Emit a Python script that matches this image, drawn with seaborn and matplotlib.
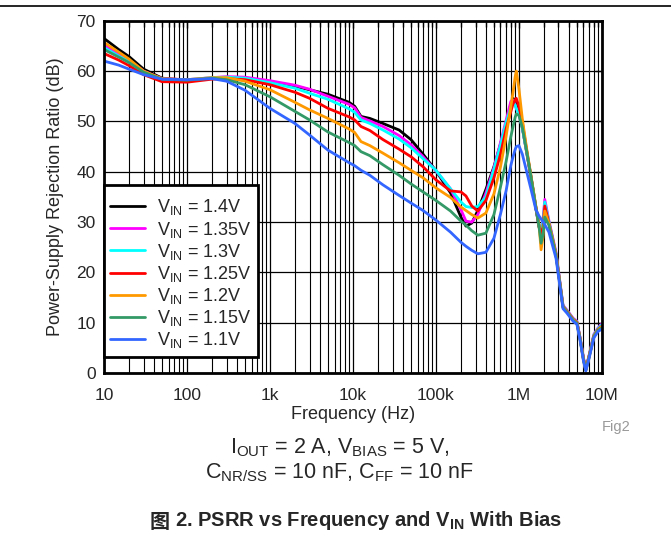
import matplotlib
matplotlib.use("Agg")
import matplotlib.pyplot as plt
from matplotlib.lines import Line2D
from matplotlib.ticker import FixedLocator, LogLocator, NullFormatter
import numpy as np
import pandas as pd
import seaborn as sns

# Frequency points (Hz) shared by every PSRR trace
freq_hz = [10, 15, 20, 30, 50,
           100, 200, 300, 500,
           1e3, 2e3, 3e3, 5e3, 9e3,
           1.05e4, 1.25e4, 1.6e4, 2.3e4, 3.6e4, 5e4, 7e4,
           1e5, 1.5e5, 2e5, 2.3e5, 2.7e5, 3.2e5,
           4e5, 5e5, 6e5, 7e5, 8e5, 8.5e5, 9e5, 9.3e5,
           1e6, 1.1e6, 1.25e6, 1.4e6, 1.6e6, 1.75e6, 1.85e6, 1.95e6, 2.05e6, 2.3e6, 2.8e6,
           3.4e6, 3.8e6, 4.5e6, 5e6, 5.5e6, 6e6, 6.4e6, 7e6, 8e6, 9e6, 1e7]

# PSRR (dB) for each input voltage
psrr_1v40 = [66.5, 64.3, 62.9, 60.4, 58.6,
             58.2, 58.6, 58.7, 58.5,
             57.9, 57.0, 56.3, 55.4, 53.8,
             53.0, 51.0, 50.6, 49.6, 48.3, 46.4, 43.5,
             40.2, 35.8, 31.0, 29.2, 29.8, 32.3,
             36.5, 41.0, 45.5, 49.5, 53.5, 54.6, 54.2, 53.6,
             52.0, 48.8, 43.5, 38.8, 32.7, 29.0, 28.0, 29.5, 33.0, 29.9, 23.6,
             13.2, 12.3, 10.7, 10.1, 6.6, 2.8, 0.7, 3.3, 7.4, 8.6, 9.3]
psrr_1v35 = [65.2, 63.5, 62.2, 60.0, 58.5,
             58.3, 58.7, 58.9, 58.8,
             58.1, 57.2, 56.4, 55.0, 53.4,
             52.7, 50.8, 50.1, 49.0, 47.2, 45.4, 43.0,
             40.2, 36.6, 32.5, 30.2, 30.0, 31.5,
             35.8, 40.8, 45.8, 50.2, 54.0, 54.2, 53.3, 52.6,
             51.5, 48.7, 43.6, 38.9, 32.9, 29.2, 28.3, 30.5, 34.5, 30.3, 24.0,
             13.5, 12.5, 10.9, 10.3, 6.8, 3.0, 0.9, 3.5, 7.7, 9.0, 9.8]
psrr_1v30 = [64.7, 63.0, 61.9, 59.9, 58.4,
             58.3, 58.7, 58.8, 58.6,
             57.7, 56.6, 55.6, 54.4, 52.5,
             51.8, 50.3, 49.6, 48.3, 46.5, 44.8, 42.6,
             40.3, 36.6, 34.0, 33.1, 32.9, 33.1,
             35.0, 40.5, 45.3, 49.8, 52.8, 53.7, 53.3, 52.6,
             51.5, 48.7, 43.6, 38.9, 32.9, 29.2, 28.8, 30.0, 34.0, 30.1, 23.8,
             13.4, 12.4, 10.8, 10.2, 6.7, 2.9, 0.8, 3.4, 7.6, 8.9, 9.6]
psrr_1v25 = [63.5, 62.2, 61.1, 59.3, 57.9,
             57.8, 58.4, 58.5, 58.3,
             57.3, 55.8, 54.6, 52.6, 50.9,
             50.3, 49.0, 48.2, 46.4, 44.5, 43.0, 41.0,
             38.4, 36.2, 36.0, 35.2, 33.2, 32.2,
             34.3, 38.8, 43.5, 48.5, 52.0, 53.5, 54.3, 54.6,
             53.0, 49.8, 43.9, 39.0, 33.0, 29.3, 27.4, 29.0, 33.2, 29.8, 23.6,
             13.2, 12.3, 10.7, 10.1, 6.6, 2.8, 0.7, 3.3, 7.4, 8.7, 9.3]
psrr_1v20 = [65.7, 63.8, 62.4, 60.0, 58.5,
             58.3, 58.7, 58.7, 58.0,
             56.3, 53.8, 52.3, 50.6, 48.5,
             47.8, 46.0, 45.2, 43.7, 41.8, 40.3, 38.8,
             36.8, 34.9, 33.0, 32.3, 31.5, 30.8,
             31.8, 35.6, 41.0, 47.0, 53.0, 55.8, 58.8, 60.0,
             56.5, 50.5, 44.2, 39.2, 33.2, 29.3, 24.5, 27.0, 32.2, 29.7, 23.5,
             13.1, 12.2, 10.6, 10.0, 6.5, 2.7, 0.6, 3.2, 7.3, 8.6, 9.2]
psrr_1v15 = [64.3, 62.8, 61.7, 59.8, 58.4,
             58.2, 58.6, 58.3, 57.3,
             54.9, 52.0, 50.3, 47.9, 45.8,
             45.2, 44.0, 43.2, 41.4, 39.3, 37.6, 36.0,
             34.3, 32.2, 30.2, 29.4, 28.3, 27.4,
             27.8, 31.5, 37.0, 42.0, 47.0, 49.0, 50.8, 51.5,
             51.2, 48.8, 43.8, 39.0, 33.0, 29.0, 25.8, 27.5, 31.0, 29.4, 23.3,
             13.0, 12.1, 10.5, 9.9, 6.4, 2.6, 0.5, 3.1, 7.2, 8.5, 9.0]
psrr_1v10 = [62.0, 61.2, 60.4, 59.3, 58.4,
             58.3, 58.5, 58.0, 56.2,
             52.6, 49.6, 47.3, 44.3, 41.8,
             41.2, 40.3, 39.3, 37.4, 35.3, 33.8, 32.3,
             30.4, 28.0, 26.0, 25.2, 24.4, 23.7,
             24.0, 26.8, 31.6, 36.2, 41.3, 43.0, 44.4, 45.0,
             45.2, 43.5, 39.8, 36.5, 32.5, 31.2, 30.6, 30.1, 29.5, 28.0, 22.8,
             12.8, 11.9, 10.3, 9.7, 6.2, 2.4, 0.4, 2.9, 7.0, 8.3, 8.7]

series_labels = [r"V$_{\mathrm{IN}}$ = 1.4V", r"V$_{\mathrm{IN}}$ = 1.35V",
                 r"V$_{\mathrm{IN}}$ = 1.3V", r"V$_{\mathrm{IN}}$ = 1.25V",
                 r"V$_{\mathrm{IN}}$ = 1.2V", r"V$_{\mathrm{IN}}$ = 1.15V",
                 r"V$_{\mathrm{IN}}$ = 1.1V"]
series_values = [psrr_1v40, psrr_1v35, psrr_1v30, psrr_1v25,
                 psrr_1v20, psrr_1v15, psrr_1v10]
series_colors = ["#000000", "#FF00FF", "#00FFFF", "#FF0000",
                 "#FF9900", "#339966", "#3366FF"]

x_ticks = [10, 100, 1e3, 1e4, 1e5, 1e6, 1e7]
x_tick_labels = ["10", "100", "1k", "10k", "100k", "1M", "10M"]
y_ticks = [0, 10, 20, 30, 40, 50, 60, 70]

frames = [pd.DataFrame({"freq": freq_hz, "psrr": vals, "series": lab})
          for lab, vals in zip(series_labels, series_values)]
df = pd.concat(frames, ignore_index=True)

sns.set_theme(style="white")
plt.rcParams["font.family"] = ["Liberation Sans", "Noto Sans CJK SC", "DejaVu Sans"]
plt.rcParams["mathtext.fontset"] = "custom"
plt.rcParams["mathtext.rm"] = "Liberation Sans"
plt.rcParams["mathtext.it"] = "Liberation Sans:italic"
plt.rcParams["mathtext.bf"] = "Liberation Sans:bold"

W, H = 671, 533
fig = plt.figure(figsize=(W / 100, H / 100), dpi=100)
ax = fig.add_axes([0.155, 0.300, 0.742, 0.661])

sns.lineplot(data=df, x="freq", y="psrr", hue="series", hue_order=series_labels,
             palette=series_colors, linewidth=2.0, estimator=None, sort=False,
             ax=ax, zorder=3)

ax.set_xscale("log")
ax.set_xlim(10, 1e7)
ax.set_ylim(0, 70)
ax.xaxis.set_major_locator(FixedLocator(x_ticks))
ax.set_xticklabels(x_tick_labels)
ax.xaxis.set_minor_locator(LogLocator(base=10, subs=np.arange(2, 10)))
ax.xaxis.set_minor_formatter(NullFormatter())
ax.set_yticks(y_ticks)

ax.grid(True, which="major", color="black", linewidth=0.9)
ax.grid(True, which="minor", axis="x", color="black", linewidth=0.8)
ax.set_axisbelow(True)

for sp in ax.spines.values():
    sp.set_linewidth(2.0)
    sp.set_color("black")
    sp.set_zorder(5)

ax.tick_params(which="both", direction="in", top=True, right=True,
               color="black", labelsize=12.5)
ax.tick_params(axis="x", which="both", pad=11)
ax.tick_params(axis="y", which="both", pad=6)
ax.tick_params(which="major", length=5, width=1)
ax.tick_params(which="minor", length=4, width=1)

ax.set_xlabel("Frequency (Hz)", fontsize=13, labelpad=2)
ax.set_ylabel("Power-Supply Rejection Ratio (dB)", fontsize=13, labelpad=9)

# A tiny blank title gives the legend a little more room above the first entry
leg = ax.legend(loc="upper left", bbox_to_anchor=(0.0, 0.534), borderaxespad=0,
                fontsize=13, handlelength=1.9, handletextpad=0.7,
                labelspacing=0.12, borderpad=0.35, fancybox=False,
                framealpha=1.0, edgecolor="black", title=" ", title_fontsize=3)
leg.get_frame().set_linewidth(2.0)
leg.set_zorder(6)
for h in leg.get_lines():
    h.set_linewidth(2.0)

# Rule across the top of the page
fig.add_artist(Line2D([0, 1], [1 - 6 / H, 1 - 6 / H], color="black",
                      linewidth=1.2, transform=fig.transFigure))

fig.text(616 / W, 1 - 427 / H, "Fig2", color="#999999", fontsize=10.5,
         ha="center", va="center")
fig.text(340 / W, 1 - 448 / H,
         r"I$_{\mathrm{OUT}}$ = 2 A, V$_{\mathrm{BIAS}}$ = 5 V,",
         fontsize=15.5, ha="center", va="center")
fig.text(340 / W, 1 - 473 / H,
         r"C$_{\mathrm{NR/SS}}$ = 10 nF, C$_{\mathrm{FF}}$ = 10 nF",
         fontsize=15.5, ha="center", va="center")

# Figure caption: the CJK character is set in its own text so it gets a CJK face
cap_y = 1 - 521 / H
cap_cjk = fig.text(0, cap_y, "图", family=["Noto Sans CJK SC"], fontweight="bold",
                   fontsize=14.5, ha="left", va="center")
cap_rest = fig.text(0, cap_y, r"2. PSRR vs Frequency and $\mathbf{V_{IN}}$ With Bias",
                    fontsize=14.5, fontweight="bold", ha="left", va="center")
renderer = fig.canvas.get_renderer()
w_cjk = cap_cjk.get_window_extent(renderer).width
w_rest = cap_rest.get_window_extent(renderer).width
gap = 5
x_start = 356 - (w_cjk + gap + w_rest) / 2
cap_cjk.set_x(x_start / W)
cap_rest.set_x((x_start + w_cjk + gap) / W)

fig.savefig("out.png", dpi=100, facecolor="white")
